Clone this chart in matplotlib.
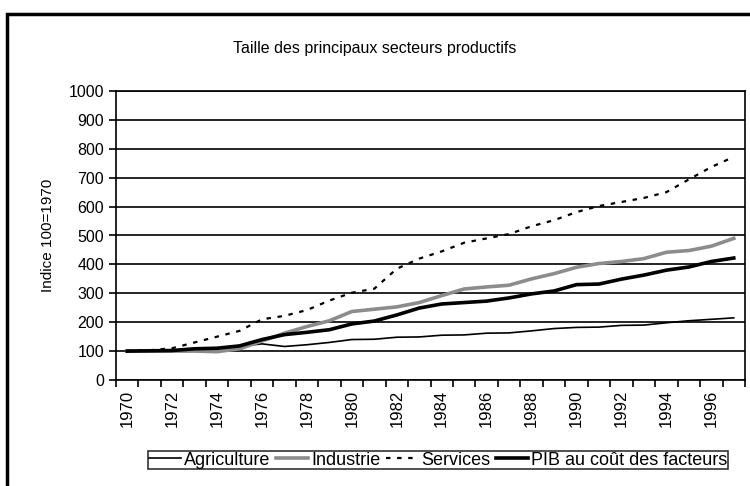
import matplotlib.pyplot as plt
import numpy as np
from matplotlib.patches import Rectangle

plt.rcParams['font.family'] = ['Liberation Sans', 'DejaVu Sans']

years = list(range(1970, 1998))
agriculture = [100, 102, 103, 105, 107, 117, 125, 116, 122, 130, 140, 141, 148, 149, 155, 156,
               162, 163, 170, 178, 182, 183, 189, 190, 198, 205, 210, 215]
industrie = [100, 100, 100, 100, 98, 108, 135, 162, 185, 205, 237, 245, 253, 268, 292, 315,
             322, 328, 350, 368, 390, 403, 410, 420, 442, 448, 463, 490]
services = [100, 103, 110, 130, 150, 170, 210, 222, 242, 275, 302, 316, 385, 420, 445, 475,
            490, 505, 532, 553, 581, 602, 616, 630, 650, 694, 737, 772]
pib = [100, 101, 102, 108, 110, 118, 140, 157, 165, 174, 194, 204, 225, 249, 263, 268,
       273, 284, 298, 308, 330, 332, 349, 363, 380, 391, 410, 422]

fig = plt.figure(figsize=(7.5, 4.86), dpi=100)
fig.patches.append(Rectangle((7 / 750, -0.2), 1.2, 1.2 - 14 / 486, transform=fig.transFigure,
                             fill=False, edgecolor='black', linewidth=2.5, zorder=0))

ax = fig.add_axes([116 / 750, 106 / 486, 629 / 750, 289 / 486])
x = np.arange(len(years))

ax.plot(x, agriculture, color='black', lw=1.2, label='Agriculture')
ax.plot(x, industrie, color='#8c8c8c', lw=2.6, label='Industrie')
ax.plot(x, services, color='black', lw=1.6, linestyle=(0, (2, 3)), label='Services')
ax.plot(x, pib, color='black', lw=2.6, label='PIB au coût des facteurs')

ax.set_xlim(-0.5, len(years) - 0.5)
ax.set_ylim(0, 1000)
ax.set_yticks(range(0, 1001, 100))
ax.yaxis.grid(True, color='black', lw=1.2)
ax.set_axisbelow(True)
for s in ax.spines.values():
    s.set_linewidth(1.2)

ax.set_xticks(np.arange(-0.5, len(years)), labels=[])
ax.set_xticks(x[::2], labels=[str(y) for y in years[::2]], minor=True, rotation=90)
ax.tick_params(axis='x', which='major', direction='out', length=5, width=1.2)
ax.tick_params(axis='x', which='minor', length=0, labelsize=12, pad=7)
ax.tick_params(axis='y', direction='out', length=5, width=1.2, labelsize=11.5)

ax.set_ylabel('Indice 100=1970', fontsize=11, labelpad=10)
fig.text(375 / 750, 1 - 48 / 486, 'Taille des principaux secteurs productifs',
         ha='center', va='center', fontsize=11.5)

leg = fig.legend(loc='center', bbox_to_anchor=(438 / 750, 26 / 486), ncol=4, fontsize=13,
                 frameon=True, fancybox=False, edgecolor='black', handlelength=1.8,
                 handletextpad=0.15, columnspacing=0.3, borderpad=0.05, borderaxespad=0)
leg.get_frame().set_linewidth(1.2)

fig.savefig('out.png', dpi=100)
